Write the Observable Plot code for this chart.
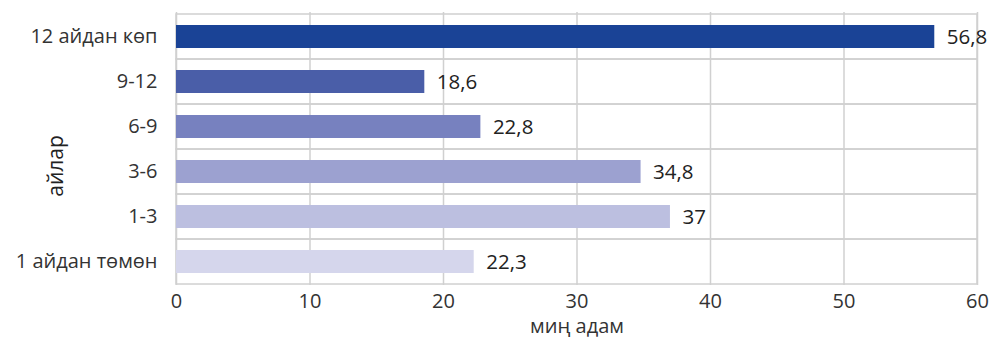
<!DOCTYPE html>
<html>
<head>
<meta charset="utf-8">
<script src="https://cdn.jsdelivr.net/npm/d3@7"></script>
<script src="https://cdn.jsdelivr.net/npm/@observablehq/plot@0.6"></script>
<style>
  html, body { margin: 0; padding: 0; background: #fff; }
  #chart { width: 991px; height: 338px; }
  svg { font-family: "Open Sans", sans-serif; }
</style>
</head>
<body>
<div id="chart"></div>
<script>
const categories = ["12 айдан көп", "9-12", "6-9", "3-6", "1-3", "1 айдан төмөн"];
const values = [56.8, 18.6, 22.8, 34.8, 37, 22.3];
const labels = ["56,8", "18,6", "22,8", "34,8", "37", "22,3"];
const colors = ["#1a4396", "#4a5ea8", "#7781bf", "#9ca1d0", "#bcbfe0", "#d5d6ec"];
const xTicks = [0, 10, 20, 30, 40, 50, 60];
const yTitle = ["айлар"];

const data = categories.map((c, i) => ({cat: c, value: values[i], label: labels[i], color: colors[i]}));

const plot = Plot.plot({
  width: 991,
  height: 338,
  marginLeft: 176,
  marginRight: 14,
  marginTop: 12,
  marginBottom: 53,
  style: {fontSize: "20px", fontFamily: "'Open Sans', sans-serif", color: "#333", background: "#fff"},
  x: {domain: [0, 60], ticks: xTicks, tickSize: 0, tickPadding: 8, label: "миң адам", labelAnchor: "center", labelOffset: 47, labelArrow: "none"},
  y: {domain: categories, padding: 0, tickSize: 0, tickPadding: 19, label: null},
  marks: [
    Plot.barX(data, {x1: 0, x2: 60, y: "cat", fill: "none", stroke: "#d0d0d0", strokeWidth: 1.5}),
    Plot.gridX({ticks: xTicks, stroke: "#d0d0d0", strokeOpacity: 1, strokeWidth: 1.5}),
    Plot.barX(data, {x: "value", y: "cat", fill: "color", insetTop: 11, insetBottom: 11}),
    Plot.text(data, {x: "value", y: "cat", text: "label", dx: 12, textAnchor: "start", fill: "#222", fontSize: 20.5}),
    Plot.text(yTitle, {text: d => d, frameAnchor: "left", textAnchor: "middle", dx: -120, dy: 17, rotate: -90, fontSize: 21, fill: "#222"})
  ]
});
document.getElementById("chart").appendChild(plot);
</script>
</body>
</html>
